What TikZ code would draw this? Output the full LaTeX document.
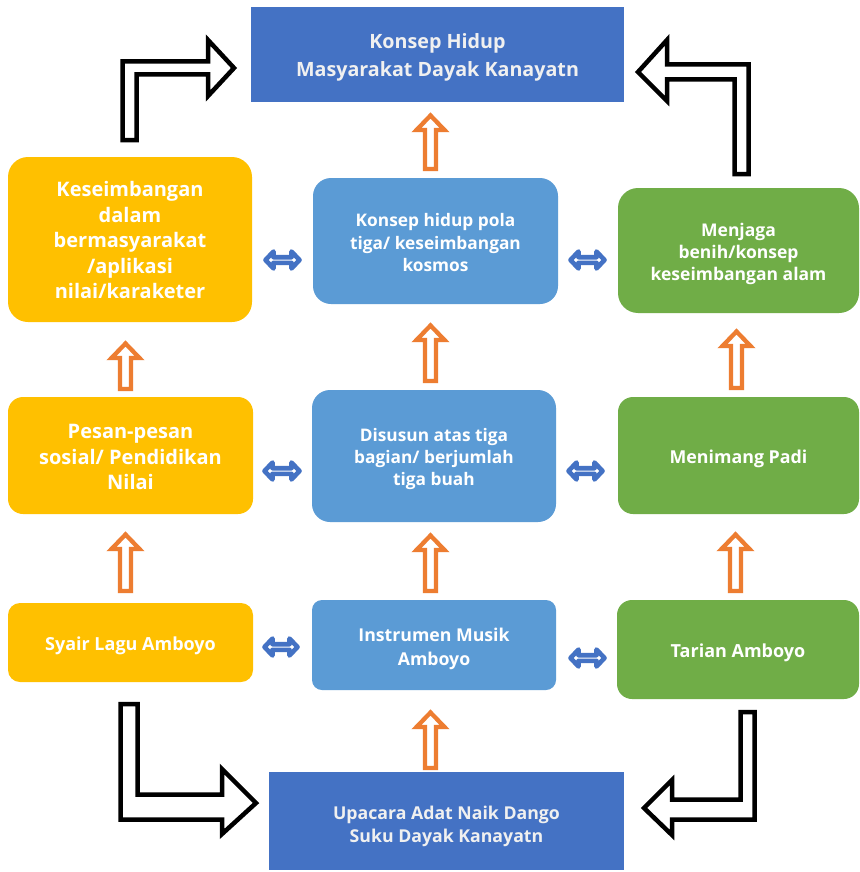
\documentclass[tikz,border=0pt]{standalone}
\usepackage{fontspec}
\setmainfont{Open Sans}
\definecolor{dblue}{HTML}{4472C4}
\definecolor{mblue}{HTML}{5B9BD5}
\definecolor{yel}{HTML}{FFC000}
\definecolor{grn}{HTML}{70AD47}
\definecolor{org}{HTML}{ED7D31}
\newcommand\OrangeUp[3]{%
  \draw[oarrow] (#1-5.5,#2-2) -- (#1-5.5,#3+17) -- (#1-14,#3+17) -- (#1,#3+2.5) -- (#1+14,#3+17) -- (#1+5.5,#3+17) -- (#1+5.5,#2-2) -- cycle;}
\newcommand\DblArrow[3]{%
  \draw[barrow] (#1+2.5,#3) -- (#1+10.5,#3-8.5) -- (#1+10.5,#3-2.8) -- (#2-10.5,#3-2.8) -- (#2-10.5,#3-8.5) -- (#2-2.5,#3) -- (#2-10.5,#3+8.5) -- (#2-10.5,#3+2.8) -- (#1+10.5,#3+2.8) -- (#1+10.5,#3+8.5) -- cycle;}
\begin{document}
\begin{tikzpicture}[x=1pt,y=-1pt,
  box/.style={rectangle, inner sep=0pt},
  txt/.style={inner sep=0pt, align=center, text=white},
  fs/.style 2 args={font=\bfseries\fontsize{#1}{#2}\selectfont},
  darkbox/.style={box, fill=dblue},
  ybox/.style={box, fill=yel, rounded corners=#1},
  mbox/.style={box, fill=mblue, rounded corners=#1},
  gbox/.style={box, fill=grn, rounded corners=#1},
  oarrow/.style={draw=org, fill=white, line width=4.3pt, line join=miter},
  barrow/.style={draw=dblue, fill=white, line width=4.6pt, line join=round},
  karrow/.style={draw=black, fill=white, line width=4.5pt, line join=miter},
]
\useasboundingbox[fill=white] (0,0) rectangle (859,872);

% boxes
\node[darkbox, minimum width=373, minimum height=95] (top) at (437.5,54.5) {};
\node[darkbox, minimum width=355, minimum height=98] (bot) at (446.5,821) {};
\node[ybox=20pt, minimum width=244, minimum height=165] (a1) at (130,239.5) {};
\node[ybox=15pt, minimum width=245, minimum height=117] (a2) at (130.5,455.5) {};
\node[ybox=12pt, minimum width=245, minimum height=79] (a3) at (130.5,642.5) {};
\node[mbox=18pt, minimum width=245, minimum height=126] (b1) at (435.5,241) {};
\node[mbox=18pt, minimum width=244, minimum height=132] (b2) at (434,456) {};
\node[mbox=10pt, minimum width=244, minimum height=90] (b3) at (434,645) {};
\node[gbox=20pt, minimum width=241, minimum height=125] (c1) at (738.5,250.5) {};
\node[gbox=15pt, minimum width=241, minimum height=117] (c2) at (738.5,455.5) {};
\node[gbox=15pt, minimum width=242, minimum height=99] (c3) at (738,649.5) {};

% texts
\node[txt, fs={19.7}{28}, text=white!94!black] (topt) at ([yshift=-3pt]top.center) {Konsep Hidup\\ Masyarakat Dayak Kanayatn};
\node[txt, fs={17.7}{23}, text=white!94!black] (bott) at ([yshift=-5pt]bot.center) {Upacara Adat Naik Dango\\ Suku Dayak Kanayatn};
\node[txt, fs={20}{25.5}] (a1t) at ([yshift=-0.5pt]a1.center) {Keseimbangan\\ dalam\\ bermasyarakat\\ /aplikasi\\ nilai/karaketer};
\node[txt, fs={20}{25.5}] (a2t) at ([yshift=-1.5pt]a2.center) {Pesan-pesan\\ sosial/ Pendidikan\\ Nilai};
\node[txt, fs={18}{22}] (a3t) at ([yshift=-3pt]a3.center) {Syair Lagu Amboyo};
\node[txt, fs={17.3}{22.5}] (b1t) at ([yshift=-2pt]b1.center) {Konsep hidup pola\\ tiga/ keseimbangan\\ kosmos};
\node[txt, fs={17.3}{22}] (b2t) at ([yshift=-3pt]b2.center) {Disusun atas tiga\\ bagian/ berjumlah\\ tiga buah};
\node[txt, fs={17.7}{24}] (b3t) at ([yshift=-4pt]b3.center) {Instrumen Musik\\ Amboyo};
\node[txt, fs={17.5}{22}] (c1t) at ([yshift=-3pt]c1.center) {Menjaga\\ benih/konsep\\ keseimbangan alam};
\node[txt, fs={17.8}{22}] (c2t) at ([yshift=-3.5pt]c2.center) {Menimang Padi};
\node[txt, fs={18}{22}] (c3t) at ([yshift=-3pt]c3.center) {Tarian Amboyo};

% orange hollow up arrows
\OrangeUp{125.5}{391}{341}
\OrangeUp{125.5}{593}{532}
\OrangeUp{430.5}{171}{113}
\OrangeUp{430.5}{383}{323}
\OrangeUp{430.5}{593}{533}
\OrangeUp{430.5}{770}{710}
\OrangeUp{736.5}{390}{329}
\OrangeUp{735.5}{593}{532}

% double arrows
\DblArrow{263}{302}{260}
\DblArrow{568}{607}{260}
\DblArrow{262}{302}{471}
\DblArrow{566}{605}{471}
\DblArrow{262}{300}{647}
\DblArrow{568}{607}{658}

% black bent arrows
\draw[karrow] (122.5,140) -- (122.5,61.5) -- (208,61.5) -- (208,40) -- (234,68) -- (208,96) -- (208,74.5) -- (136.5,74.5) -- (136.5,140) -- cycle;
\draw[karrow] (748.5,174) -- (748.5,64.5) -- (667,64.5) -- (667,40) -- (638,72) -- (667,101) -- (667,79.5) -- (734.5,79.5) -- (734.5,174) -- cycle;
\draw[karrow] (120.5,704) -- (120.5,819.5) -- (222,819.5) -- (222,834) -- (256,803) -- (222,769) -- (222,794.5) -- (137.5,794.5) -- (137.5,704) -- cycle;
\draw[karrow] (754.5,712) -- (754.5,819.5) -- (672,819.5) -- (672,835) -- (644,808) -- (672,780) -- (672,799.5) -- (740.5,799.5) -- (740.5,712) -- cycle;
\end{tikzpicture}
\end{document}
